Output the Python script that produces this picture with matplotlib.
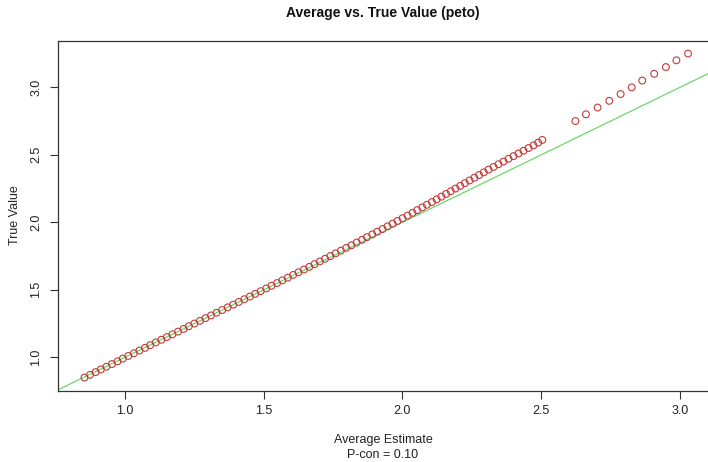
import numpy as np
import matplotlib
matplotlib.use("Agg")
import matplotlib.pyplot as plt

plt.rcParams['font.family'] = ['Liberation Sans', 'DejaVu Sans']

##### valeurs #####
true_dense = [0.85, 0.87, 0.89, 0.91, 0.93, 0.95, 0.97, 0.99, 1.01, 1.03,
              1.05, 1.07, 1.09, 1.11, 1.13, 1.15, 1.17, 1.19, 1.21, 1.23,
              1.25, 1.27, 1.29, 1.31, 1.33, 1.35, 1.37, 1.39, 1.41, 1.43,
              1.45, 1.47, 1.49, 1.51, 1.53, 1.55, 1.57, 1.59, 1.61, 1.63,
              1.65, 1.67, 1.69, 1.71, 1.73, 1.75, 1.77, 1.79, 1.81, 1.83,
              1.85, 1.87, 1.89, 1.91, 1.93, 1.95, 1.97, 1.99, 2.01, 2.03,
              2.05, 2.07, 2.09, 2.11, 2.13, 2.15, 2.17, 2.19, 2.21, 2.23,
              2.25, 2.27, 2.29, 2.31, 2.33, 2.35, 2.37, 2.39, 2.41, 2.43,
              2.45, 2.47, 2.49, 2.51, 2.53, 2.55, 2.57, 2.59, 2.61]
avg_dense = [0.854, 0.874, 0.894, 0.913, 0.933, 0.953, 0.973, 0.992, 1.012, 1.032,
             1.052, 1.072, 1.091, 1.111, 1.131, 1.151, 1.171, 1.191, 1.211, 1.230,
             1.250, 1.270, 1.290, 1.310, 1.330, 1.350, 1.370, 1.390, 1.410, 1.430,
             1.450, 1.469, 1.489, 1.509, 1.528, 1.548, 1.567, 1.587, 1.606, 1.625,
             1.645, 1.664, 1.683, 1.702, 1.721, 1.740, 1.759, 1.778, 1.797, 1.816,
             1.835, 1.854, 1.872, 1.891, 1.909, 1.928, 1.946, 1.964, 1.982, 2.000,
             2.018, 2.036, 2.053, 2.071, 2.088, 2.106, 2.123, 2.140, 2.157, 2.174,
             2.191, 2.208, 2.225, 2.242, 2.259, 2.276, 2.293, 2.310, 2.328, 2.346,
             2.364, 2.382, 2.400, 2.418, 2.436, 2.454, 2.472, 2.489, 2.504]
true_sparse = [2.75, 2.80, 2.85, 2.90, 2.95, 3.00, 3.05, 3.10, 3.15, 3.20, 3.25]
avg_sparse = [2.623, 2.661, 2.703, 2.745, 2.786, 2.826, 2.864, 2.907, 2.949, 2.987, 3.029]

x_ticks = [1.0, 1.5, 2.0, 2.5, 3.0]
y_ticks = [1.0, 1.5, 2.0, 2.5, 3.0]

avg = np.array(avg_dense + avg_sparse)
true = np.array(true_dense + true_sparse)

W, H = 708, 462
fig = plt.figure(figsize=(W / 100, H / 100), dpi=100)
# zone de trace (le bord droit sort de l'image, comme sur l'original)
left, right, top, bottom = 58.1, 712.2, 40.6, 390.5
ax = fig.add_axes([left / W, 1 - bottom / H, (right - left) / W, (bottom - top) / H])

ax.plot([0, 4], [0, 4], color='#6ad96a', lw=0.9, zorder=1)
ax.scatter(avg, true, s=24, facecolors='none', edgecolors='#c43a3a', linewidths=0.8, zorder=2)

ax.set_xlim(0.759, 3.116)
ax.set_ylim(0.754, 3.346)
ax.set_xticks(x_ticks)
ax.set_yticks(y_ticks)
ax.set_xticklabels(['%.1f' % v for v in x_ticks])
ax.set_yticklabels(['%.1f' % v for v in y_ticks], rotation=90, va='center')
ax.tick_params(direction='out', length=5.5, width=0.8, colors='#333333', labelsize=9, labelcolor='#222222')
ax.tick_params(axis='x', pad=5)
ax.tick_params(axis='y', pad=6)
for sp in ax.spines.values():
    sp.set_color('#333333')
    sp.set_linewidth(0.9)

fig.text(383 / W, 1 - 13 / H, 'Average vs. True Value (peto)', ha='center', va='center',
         fontsize=10, fontweight='bold', color='#111111')
fig.text(383 / W, 1 - 440 / H, 'Average Estimate', ha='center', va='center', fontsize=9, color='#222222')
fig.text(383 / W, 1 - 455 / H, 'P-con = 0.10', ha='center', va='center', fontsize=9, color='#222222')
fig.text(15 / W, 1 - 215 / H, 'True Value', ha='center', va='center', rotation=90,
         fontsize=9, color='#222222')

fig.savefig('out.png', dpi=100)
